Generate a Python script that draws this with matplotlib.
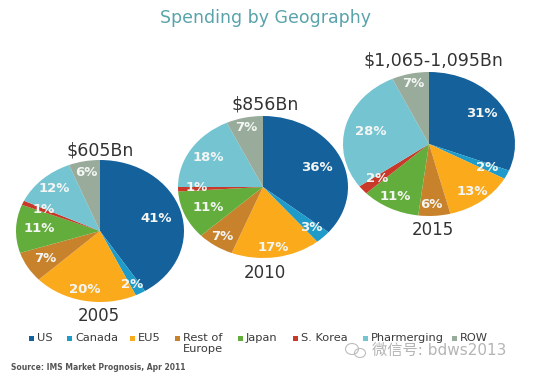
# plot.py - Spending by Geography, three pies drawn as squashed ellipses
import matplotlib
matplotlib.use("Agg")
import matplotlib.pyplot as plt
from matplotlib.patches import Rectangle, Ellipse

W, H = 536, 381

# --- data ---
categories = ["US", "Canada", "EU5", "Rest of\nEurope", "Japan", "S. Korea", "Pharmerging", "ROW"]
colors = ["#14619c", "#1f9bc9", "#fbaa1c", "#c9822c", "#63ad3c", "#c8392a", "#74c4d2", "#99ab9b"]
values_2005 = [41, 2, 20, 7, 11, 1, 12, 6]
values_2010 = [36, 3, 17, 7, 11, 1, 18, 7]
values_2015 = [31, 2, 13, 6, 11, 2, 28, 7]
years = ["2005", "2010", "2015"]
totals = ["$605Bn", "$856Bn", "$1,065-1,095Bn"]

# label nudges in pixels, away from where pie() puts them
nudge_2005 = [(-2, 2), (3, 9), (-4, 8), (-3, 1), (0, -1), (-1, -1), (-4, -5), (-2, -8)]
nudge_2010 = [(-2, 2), (5, 4), (1, 10), (-6, 7), (1, 0), (-5, -1), (-3, -2), (-3, -10)]
nudge_2015 = [(2, -1), (2, 1), (5, 7), (-2, 9), (-6, 6), (-4, 1), (2, 0), (-2, -10)]

plt.rcParams["font.family"] = ["DejaVu Sans", "Noto Sans CJK SC"]
fig = plt.figure(figsize=(W / 100, H / 100), dpi=100, facecolor="white")

# overlay in pixel coordinates for the loose text and legend
bg = fig.add_axes([0, 0, 1, 1])
bg.set_xlim(0, W)
bg.set_ylim(H, 0)
bg.axis("off")


def draw_pie(values, nudge, cx, cy, rx, ry):
    ax = fig.add_axes([(cx - rx) / W, 1 - (cy + ry) / H, 2 * rx / W, 2 * ry / H])
    wedges, _, autotexts = ax.pie(values, colors=colors, startangle=90, counterclock=False,
                                  radius=1.0, autopct="%d%%", pctdistance=0.72,
                                  textprops={"color": "#f4f6f4", "fontsize": 9.5, "fontweight": "bold"})
    ax.set_aspect("auto")
    ax.set_xlim(-1, 1)
    ax.set_ylim(-1, 1)
    for w in wedges:
        w.set_clip_on(False)
    for t, (dx, dy) in zip(autotexts, nudge):
        x, y = t.get_position()
        t.set_position((x + dx / rx, y - dy / ry))


draw_pie(values_2005, nudge_2005, 100, 231, 84, 71)
draw_pie(values_2010, nudge_2010, 263, 187, 85, 71)
draw_pie(values_2015, nudge_2015, 429, 144, 86, 72)

# title
bg.text(266, 18, "Spending by Geography", color="#5aa3ab", fontsize=12.5, ha="center", va="center")

# totals and years
bg.text(100, 151, totals[0], color="#333333", fontsize=12.5, ha="center", va="center")
bg.text(265, 105, totals[1], color="#333333", fontsize=12.5, ha="center", va="center")
bg.text(433, 60, totals[2], color="#333333", fontsize=12.5, ha="center", va="center")
bg.text(99, 316, years[0], color="#333333", fontsize=12, ha="center", va="center")
bg.text(265, 273, years[1], color="#333333", fontsize=12, ha="center", va="center")
bg.text(433, 230, years[2], color="#333333", fontsize=12, ha="center", va="center")

# legend
square_x = [29, 67, 130, 175, 238, 293, 363, 452]
for sx, col, name in zip(square_x, colors, categories):
    bg.add_patch(Rectangle((sx, 335.5), 5, 5, color=col, lw=0))
    bg.text(sx + 8, 333, name, color="#3a3a3a", fontsize=8.2, ha="left", va="top", linespacing=1.1)

bg.text(11, 367, "Source: IMS Market Prognosis, Apr 2011", color="#555555", fontsize=5.5,
        fontweight="bold", ha="left", va="center")

# watermark
for ex, ey, ew, eh in [(352, 349, 13, 11), (360, 353, 11, 9)]:
    bg.add_patch(Ellipse((ex, ey), ew, eh, fill=False, ec="#bdbdbd", lw=0.8))
bg.text(372, 350, "微信号: bdws2013", color="#b5b5b5", fontsize=11, ha="left", va="center")

fig.savefig("out.png", dpi=100)
